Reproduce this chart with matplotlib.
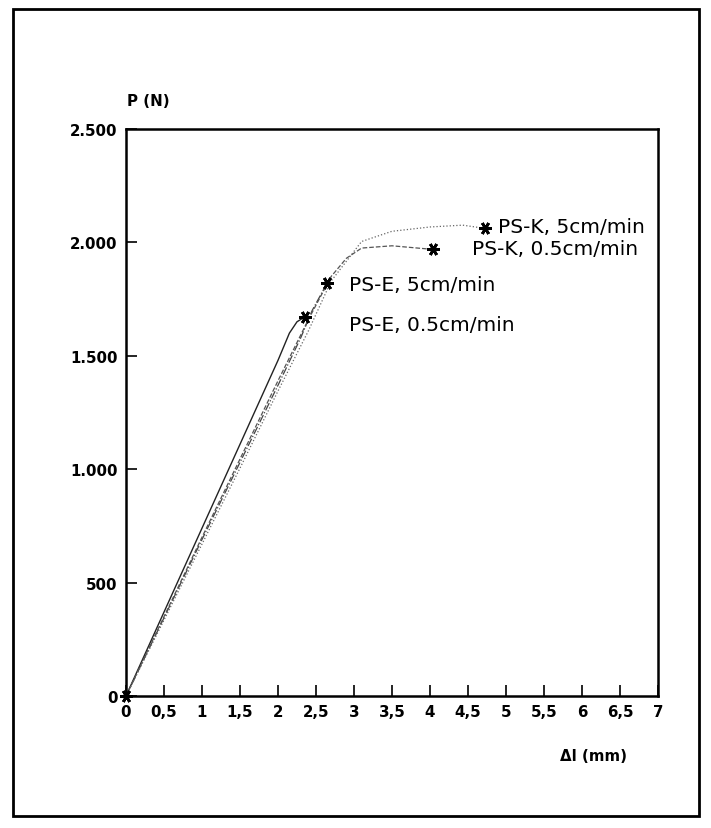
import matplotlib.pyplot as plt
from matplotlib.patches import Rectangle

plt.rcParams['font.family'] = ['DejaVu Sans']

# Kraft-Weg-Kurven (Δl in mm, P in N)
pse_05_x = [0, 0.5, 1.0, 1.5, 2.0, 2.15, 2.25, 2.36]
pse_05_y = [0, 370, 740, 1110, 1480, 1600, 1650, 1673]
pse_5_x = [0, 0.5, 1.0, 1.5, 2.0, 2.3, 2.45, 2.65]
pse_5_y = [0, 345, 690, 1030, 1370, 1580, 1700, 1823]
psk_05_x = [0, 0.5, 1.0, 1.5, 2.0, 2.4, 2.7, 2.9, 3.1, 3.5, 4.04]
psk_05_y = [0, 350, 700, 1045, 1390, 1660, 1850, 1930, 1975, 1985, 1969]
psk_5_x = [0, 0.5, 1.0, 1.5, 2.0, 2.4, 2.7, 3.1, 3.5, 4.0, 4.43, 4.72]
psk_5_y = [0, 335, 670, 1005, 1345, 1610, 1830, 2004, 2049, 2068, 2076, 2062]

labels = ["PS-K, 5cm/min", "PS-K, 0.5cm/min", "PS-E, 5cm/min", "PS-E, 0.5cm/min"]
label_x = [4.89, 4.55, 2.94, 2.94]
label_y = [2070, 1973, 1815, 1640]

x_ticks = [0, 0.5, 1, 1.5, 2, 2.5, 3, 3.5, 4, 4.5, 5, 5.5, 6, 6.5, 7]
x_ticklabels = ["0", "0,5", "1", "1,5", "2", "2,5", "3", "3,5", "4", "4,5",
                "5", "5,5", "6", "6,5", "7"]
y_ticks = [0, 500, 1000, 1500, 2000, 2500]
y_ticklabels = ["0", "500", "1.000", "1.500", "2.000", "2.500"]

fig = plt.figure(figsize=(7.11, 8.29), dpi=100)
ax = fig.add_axes([0.1772, 0.1592, 0.7483, 0.684])

ax.plot(pse_05_x, pse_05_y, color='#222222', lw=1.0, ls='-')
ax.plot(pse_5_x, pse_5_y, color='#444444', lw=0.9, ls='-.')
ax.plot(psk_05_x, psk_05_y, color='#555555', lw=0.9, ls='--')
ax.plot(psk_5_x, psk_5_y, color='#666666', lw=0.9, ls=':')

ends_x = [psk_5_x[-1], psk_05_x[-1], pse_5_x[-1], pse_05_x[-1]]
ends_y = [psk_5_y[-1], psk_05_y[-1], pse_5_y[-1], pse_05_y[-1]]
ax.plot(ends_x, ends_y, ls='none', marker=(6, 2, 90), ms=9, mew=2, color='black')
ax.plot([0], [0], ls='none', marker=(6, 2, 90), ms=9, mew=2, color='black', clip_on=False)

for t, lx, ly in zip(labels, label_x, label_y):
    ax.text(lx, ly, t, fontsize=14.5, va='center', ha='left')

ax.set_xlim(0, 7)
ax.set_ylim(0, 2500)
ax.set_xticks(x_ticks)
ax.set_xticklabels(x_ticklabels)
ax.set_yticks(y_ticks)
ax.set_yticklabels(y_ticklabels)
ax.tick_params(direction='in', length=8, width=1.2, labelsize=10.8, pad=6)
for lab in ax.get_xticklabels() + ax.get_yticklabels():
    lab.set_fontweight('bold')
for s in ax.spines.values():
    s.set_linewidth(1.8)

fig.text(127 / 711, 1 - 102 / 829, "P (N)", fontsize=10.8, fontweight='bold', va='center', ha='left')
fig.text(560 / 711, 1 - 757 / 829, "Δl (mm)", fontsize=10.8, fontweight='bold', va='center', ha='left')

fig.patches.append(Rectangle((13 / 711, 1 - 817 / 829), 686 / 711, 807 / 829,
                             transform=fig.transFigure, fill=False, lw=2, color='black'))

plt.savefig('out.png', dpi=100)
